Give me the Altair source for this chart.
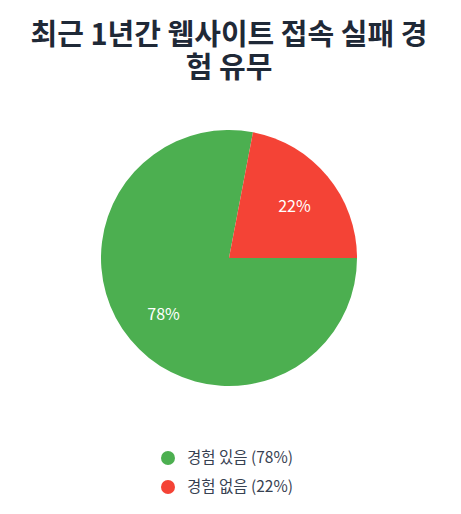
import altair as alt
import pandas as pd
import math

categories = ["경험 있음 (78%)", "경험 없음 (22%)"]
values = [78, 22]
labels = ["78%", "22%"]
colors = ["#4CAF50", "#F44336"]
order = [0, 1]

df = pd.DataFrame({"category": categories, "value": values, "label": labels, "order": order})

theta_scale = alt.Scale(range=[math.pi / 2, math.pi / 2 + 2 * math.pi])
FONT = "Noto Sans CJK KR"

base = alt.Chart(df).encode(
    theta=alt.Theta("value:Q", stack=True, scale=theta_scale),
    order=alt.Order("order:Q"),
)

pie = base.mark_arc(outerRadius=128).encode(
    color=alt.Color(
        "category:N",
        scale=alt.Scale(domain=categories, range=colors),
        sort=categories,
        legend=alt.Legend(
            title=None,
            orient="none",
            legendX=152,
            legendY=320,
            direction="vertical",
            symbolType="circle",
            symbolSize=195,
            labelFontSize=15.5,
            labelFont=FONT,
            labelColor="#374151",
            labelOffset=11,
            rowPadding=12,
        ),
    )
)

text = base.mark_text(radius=85, fontSize=16, font=FONT, color="white", dy=3).encode(
    text="label:N"
)

chart = (
    alt.layer(pie, text)
    .properties(
        width=442,
        height=256,
        padding={"top": 14, "left": 0, "right": 0, "bottom": 0},
        title=alt.TitleParams(
            text=["최근 1년간 웹사이트 접속 실패 경", "험 유무"],
            fontSize=29,
            font=FONT,
            fontWeight="bold",
            color="#1f2937",
            lineHeight=33,
            anchor="middle",
            offset=46,
        ),
    )
    .configure_view(stroke=None)
)

chart.save("out.html", embed_options={"renderer": "svg", "actions": False})
